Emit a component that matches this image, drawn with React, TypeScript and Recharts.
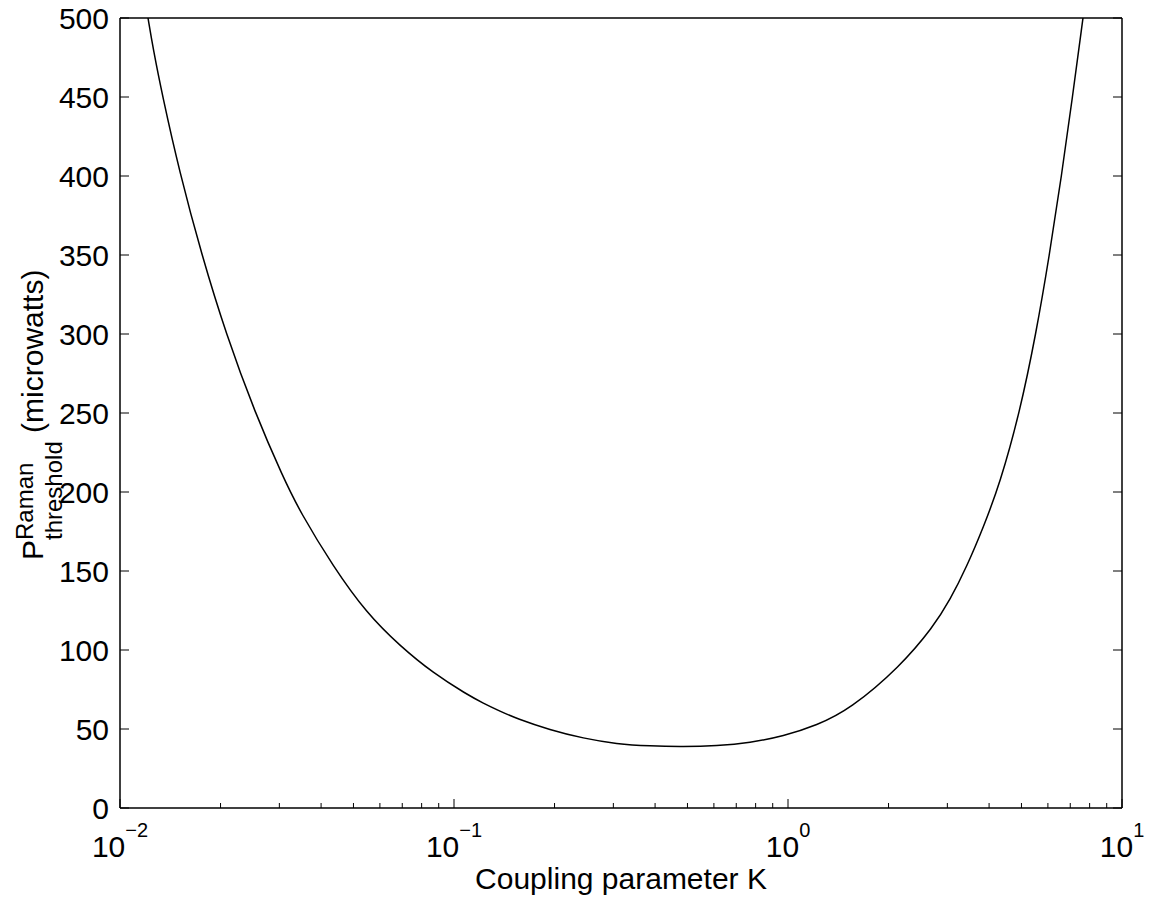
import { LineChart, Line, XAxis, YAxis } from 'recharts'

const kValues = [
  0.01213, 0.01258, 0.01336, 0.01505, 0.01757, 0.02077, 0.02537, 0.03083, 0.03459, 0.04351,
  0.0548, 0.06894, 0.0867, 0.1091, 0.1224, 0.1373, 0.1541, 0.1938, 0.2439, 0.307,
  0.3863, 0.4859, 0.6116, 0.7695, 0.9681, 1.219, 1.533, 2.164, 2.723,
  3.055, 3.428, 3.843, 4.312, 4.936, 5.527, 6.064, 6.59, 7.108, 7.642,
]
const pThreshold = [
  500, 480, 452, 403, 350, 300, 250, 209, 187.5, 152.7,
  123.2, 102.5, 85.3, 72, 66.3, 61.3, 56.6, 49.4, 44.1, 40.5,
  39.2, 38.8, 39.4, 41.3, 45.5, 52.3, 62.5, 89.4, 114.7,
  131.6, 152.7, 177.5, 205.5, 250, 300, 350, 400, 450, 500,
]

const xMajorTicks = [0.01, 0.1, 1, 10]
const xTickExponents = ['\u22122', '\u22121', '0', '1']
const xMinorTicks = [
  0.02, 0.03, 0.04, 0.05, 0.06, 0.07, 0.08, 0.09,
  0.2, 0.3, 0.4, 0.5, 0.6, 0.7, 0.8, 0.9,
  2, 3, 4, 5, 6, 7, 8, 9,
]
const yTicks = [0, 50, 100, 150, 200, 250, 300, 350, 400, 450, 500]

const data = kValues.map((k, i) => ({ k, p: pThreshold[i] }))
const xTicks = [...xMajorTicks, ...xMinorTicks].sort((a, b) => a - b)

const FONT = '"Liberation Sans", Arial, Helvetica, sans-serif'

function BottomTick({ x, y, payload }: any) {
  const i = xMajorTicks.indexOf(payload.value)
  const major = i >= 0
  return (
    <g>
      <line x1={x} y1={y} x2={x} y2={y - (major ? 9 : 5)} stroke="#000" strokeWidth={1} />
      {major && (
        <text x={x} y={y + 49} textAnchor="middle" fontSize={30} fontFamily={FONT} fill="#000">
          10<tspan dy={-20} fontSize={20}>{xTickExponents[i]}</tspan>
        </text>
      )}
    </g>
  )
}

function TopTick({ x, y, payload }: any) {
  const major = xMajorTicks.indexOf(payload.value) >= 0
  return <line x1={x} y1={y} x2={x} y2={y + (major ? 9 : 5)} stroke="#000" strokeWidth={1} />
}

function LeftTick({ x, y, payload }: any) {
  return (
    <g>
      <line x1={x} y1={y} x2={x + 9} y2={y} stroke="#000" strokeWidth={1} />
      <text x={x - 11} y={y + 11} textAnchor="end" fontSize={30} fontFamily={FONT} fill="#000">
        {payload.value}
      </text>
    </g>
  )
}

function RightTick({ x, y }: any) {
  return <line x1={x} y1={y} x2={x - 9} y2={y} stroke="#000" strokeWidth={1} />
}

const XLabel = () => (
  <text x={621} y={889} textAnchor="middle" fontSize={30} fontFamily={FONT} fill="#000">
    Coupling parameter K
  </text>
)

const YLabel = () => (
  <text transform="rotate(-90)" x={-560} y={43} fontSize={30} fontFamily={FONT} fill="#000">
    P
    <tspan dy={-10} fontSize={24}>Raman</tspan>
    <tspan x={-540} dy={29} fontSize={24}>threshold</tspan>
    <tspan dy={-19} fontSize={30}> (microwatts)</tspan>
  </text>
)

const axisLine = { stroke: '#000', strokeWidth: 1.5 }

export default function App() {
  return (
    <div style={{ position: 'absolute', left: 0, top: 0, background: '#fff', fontFamily: FONT }}>
      <LineChart
        width={1156}
        height={905}
        data={data}
        margin={{ top: 17, right: 33, bottom: 96, left: 119 }}
      >
        <XAxis
          dataKey="k"
          type="number"
          scale="log"
          domain={[0.01, 10]}
          allowDataOverflow
          ticks={xTicks}
          interval={0}
          height={1}
          tickSize={0}
          tickMargin={0}
          tickLine={false}
          axisLine={axisLine}
          tick={<BottomTick />}
          label={{ content: XLabel }}
        />
        <XAxis
          xAxisId="top"
          orientation="top"
          type="number"
          scale="log"
          domain={[0.01, 10]}
          allowDataOverflow
          ticks={xTicks}
          interval={0}
          height={1}
          tickSize={0}
          tickMargin={0}
          tickLine={false}
          axisLine={axisLine}
          tick={<TopTick />}
        />
        <YAxis
          type="number"
          domain={[0, 500]}
          allowDataOverflow
          ticks={yTicks}
          interval={0}
          width={1}
          tickSize={0}
          tickMargin={0}
          tickLine={false}
          axisLine={axisLine}
          tick={<LeftTick />}
          label={{ content: YLabel }}
        />
        <YAxis
          yAxisId="right"
          orientation="right"
          type="number"
          domain={[0, 500]}
          allowDataOverflow
          ticks={yTicks}
          interval={0}
          width={1}
          tickSize={0}
          tickMargin={0}
          tickLine={false}
          axisLine={axisLine}
          tick={<RightTick />}
        />
        <Line
          dataKey="p"
          type="basis"
          stroke="#000"
          strokeWidth={1.5}
          dot={false}
          isAnimationActive={false}
        />
      </LineChart>
    </div>
  )
}
